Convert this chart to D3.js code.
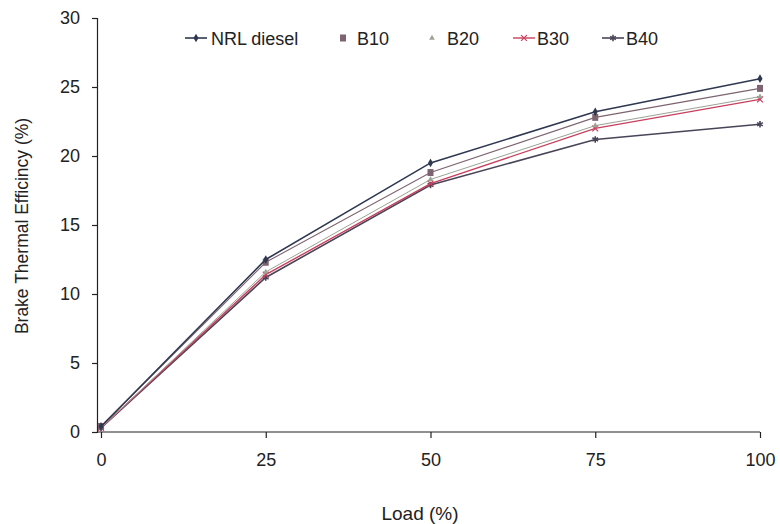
<!DOCTYPE html>
<html>
<head>
<meta charset="utf-8">
<script src="https://cdn.jsdelivr.net/npm/d3@7"></script>
<style>
body { margin: 0; background: #fff; }
text { font-family: "Liberation Sans", Arial, sans-serif; }
</style>
</head>
<body>
<div id="chart"></div>
<script>
var loads = [0, 25, 50, 75, 100];
var nrlDiesel = [0.4, 12.5, 19.5, 23.2, 25.6];
var b10 = [0.4, 12.3, 18.8, 22.8, 24.9];
var b20 = [0.3, 11.6, 18.3, 22.2, 24.3];
var b30 = [0.3, 11.4, 18.0, 22.0, 24.1];
var b40 = [0.3, 11.2, 17.9, 21.2, 22.3];
var xTicks = [0, 25, 50, 75, 100];
var yTicks = [0, 5, 10, 15, 20, 25, 30];

var series = [
	{ name: "NRL diesel", values: nrlDiesel, color: "#2f3850", marker: "diamond", width: 1.6 },
	{ name: "B10", values: b10, color: "#7d6470", marker: "square", width: 1.1 },
	{ name: "B20", values: b20, color: "#9aa394", marker: "triangle", width: 1 },
	{ name: "B30", values: b30, color: "#c8405e", marker: "cross", width: 1.4 },
	{ name: "B40", values: b40, color: "#4a4458", marker: "star", width: 1.6 }
];

var width = 780, height = 524;
var svg = d3.select("#chart").append("svg")
	.attr("width", width)
	.attr("height", height);

var x = d3.scaleLinear().domain([0, 100]).range([101, 760]);
var y = d3.scaleLinear().domain([0, 30]).range([432, 18]);

// axes
var yAxis = svg.append("g")
	.attr("transform", "translate(97,0)")
	.call(d3.axisLeft(y).tickValues(yTicks).tickSize(5).tickPadding(12));
var xAxis = svg.append("g")
	.attr("transform", "translate(0,432)")
	.call(d3.axisBottom(x).tickValues(xTicks).tickSize(6).tickPadding(15));
[xAxis, yAxis].forEach(function (a) {
	a.select(".domain").attr("stroke", "#222").attr("stroke-width", 1.2);
	a.selectAll(".tick line").attr("stroke", "#222").attr("stroke-width", 1.2);
	a.selectAll(".tick text").attr("font-size", 18).attr("fill", "#222");
});
xAxis.select(".domain").attr("d", "M97,0H760");

svg.append("text")
	.attr("x", 420).attr("y", 520)
	.attr("text-anchor", "middle")
	.attr("font-size", 19).attr("fill", "#222")
	.text("Load (%)");
svg.append("text")
	.attr("transform", "translate(28,226) rotate(-90)")
	.attr("text-anchor", "middle")
	.attr("font-size", 17.5).attr("fill", "#222")
	.text("Brake Thermal Efficincy (%)");

function drawMarker(g, type, cx, cy, color) {
	if (type === "diamond") {
		g.append("path").attr("d", d3.symbol(d3.symbolDiamond, 22)())
			.attr("transform", `translate(${cx},${cy})`).attr("fill", color);
	} else if (type === "square") {
		g.append("rect").attr("x", cx - 3).attr("y", cy - 3.5).attr("width", 6).attr("height", 7)
			.attr("fill", color);
	} else if (type === "triangle") {
		g.append("path").attr("d", d3.symbol(d3.symbolTriangle, 14)())
			.attr("transform", `translate(${cx},${cy})`).attr("fill", color);
	} else if (type === "cross") {
		g.append("path").attr("d", d3.symbol(d3.symbolX, 24)())
			.attr("transform", `translate(${cx},${cy})`).attr("fill", "none")
			.attr("stroke", color).attr("stroke-width", 1.2);
	} else if (type === "star") {
		g.append("path").attr("d", d3.symbol(d3.symbolAsterisk, 30)())
			.attr("transform", `translate(${cx},${cy})`).attr("fill", "none")
			.attr("stroke", color).attr("stroke-width", 1.6);
	}
}

var line = d3.line()
	.x((d, i) => x(loads[i]))
	.y(d => y(d));

var plot = svg.append("g");
series.slice().reverse().forEach(function (s) {
	plot.append("path")
		.datum(s.values)
		.attr("d", line)
		.attr("fill", "none")
		.attr("stroke", s.color)
		.attr("stroke-width", s.width);
	s.values.forEach(function (v, i) {
		drawMarker(plot, s.marker, x(loads[i]), y(v), s.color);
	});
});

// legend
var legendItems = [
	{ lx: 185, tx: 211, line: true },
	{ lx: 335, tx: 357, line: false },
	{ lx: 424, tx: 447, line: false },
	{ lx: 513, tx: 537, line: true },
	{ lx: 602, tx: 626, line: true }
];
var legend = svg.append("g");
series.forEach(function (s, i) {
	var it = legendItems[i];
	var ly = 38;
	if (it.line) {
		legend.append("line")
			.attr("x1", it.lx).attr("x2", it.lx + 22)
			.attr("y1", ly).attr("y2", ly)
			.attr("stroke", s.color).attr("stroke-width", s.width);
		drawMarker(legend, s.marker, it.lx + 11, ly, s.color);
	} else {
		drawMarker(legend, s.marker, it.lx + 8, ly, s.color);
	}
	legend.append("text")
		.attr("x", it.tx).attr("y", ly + 6.5)
		.attr("font-size", 18).attr("fill", "#222")
		.text(s.name);
});
</script>
</body>
</html>
